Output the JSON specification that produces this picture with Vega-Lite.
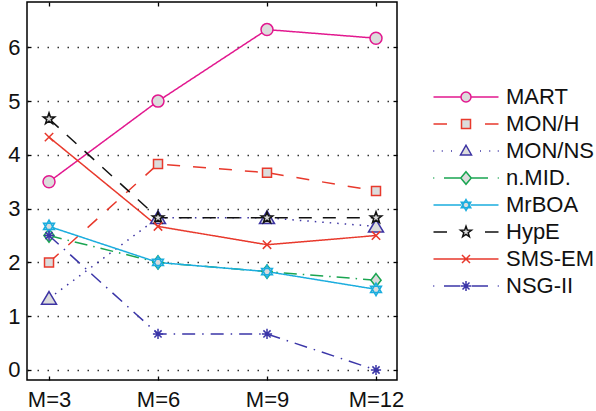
{
  "$schema": "https://vega.github.io/schema/vega-lite/v6.json",
  "autosize": "none",
  "width": 370,
  "height": 378,
  "padding": {"left": 27, "top": 2, "right": 199, "bottom": 31},
  "background": "white",
  "config": {
    "view": {"stroke": "#000", "strokeWidth": 1.5},
    "axis": {"labelFont": "Liberation Sans", "labelFontSize": 22, "labelColor": "#111", "tickColor": "#000", "tickWidth": 1.3},
    "legend": {"labelFont": "Liberation Sans", "labelFontSize": 22, "labelColor": "#111"}
  },
  "data": {
    "values": [
      {"alg": "MART", "m": 3, "v": 3.5}, {"alg": "MART", "m": 6, "v": 5.0}, {"alg": "MART", "m": 9, "v": 6.33}, {"alg": "MART", "m": 12, "v": 6.17},
      {"alg": "MON/H", "m": 3, "v": 2.0}, {"alg": "MON/H", "m": 6, "v": 3.83}, {"alg": "MON/H", "m": 9, "v": 3.67}, {"alg": "MON/H", "m": 12, "v": 3.33},
      {"alg": "MON/NS", "m": 3, "v": 1.33}, {"alg": "MON/NS", "m": 6, "v": 2.83}, {"alg": "MON/NS", "m": 9, "v": 2.83}, {"alg": "MON/NS", "m": 12, "v": 2.67},
      {"alg": "n.MID.", "m": 3, "v": 2.5}, {"alg": "n.MID.", "m": 6, "v": 2.0}, {"alg": "n.MID.", "m": 9, "v": 1.83}, {"alg": "n.MID.", "m": 12, "v": 1.67},
      {"alg": "MrBOA", "m": 3, "v": 2.67}, {"alg": "MrBOA", "m": 6, "v": 2.0}, {"alg": "MrBOA", "m": 9, "v": 1.83}, {"alg": "MrBOA", "m": 12, "v": 1.5},
      {"alg": "HypE", "m": 3, "v": 4.67}, {"alg": "HypE", "m": 6, "v": 2.83}, {"alg": "HypE", "m": 9, "v": 2.83}, {"alg": "HypE", "m": 12, "v": 2.83},
      {"alg": "SMS-EM", "m": 3, "v": 4.33}, {"alg": "SMS-EM", "m": 6, "v": 2.67}, {"alg": "SMS-EM", "m": 9, "v": 2.33}, {"alg": "SMS-EM", "m": 12, "v": 2.5},
      {"alg": "NSG-II", "m": 3, "v": 2.5}, {"alg": "NSG-II", "m": 6, "v": 0.67}, {"alg": "NSG-II", "m": 9, "v": 0.67}, {"alg": "NSG-II", "m": 12, "v": 0.0}
    ]
  },
  "resolve": {
    "scale": {"shape": "independent", "stroke": "independent"},
    "axis": {"x": "independent", "y": "independent"}
  },
  "layer": [
    {
      "mark": {"type": "line", "strokeWidth": 1.5},
      "encoding": {
        "x": {"field": "m", "type": "quantitative",
          "scale": {"domain": [2.394, 12.578], "nice": false, "zero": false},
          "axis": {"orient": "bottom", "title": null, "values": [3, 6, 9, 12], "labelExpr": "'M=' + datum.value", "ticks": true, "tickSize": -4, "grid": false, "domain": false, "labelPadding": 13}},
        "y": {"field": "v", "type": "quantitative",
          "scale": {"domain": [-0.186, 6.843], "nice": false, "zero": false},
          "axis": {"orient": "left", "title": null, "values": [0, 1, 2, 3, 4, 5, 6], "ticks": true, "tickSize": -4, "domain": false, "grid": true, "gridDash": [1.5, 8.5], "gridColor": "#333", "gridWidth": 1.3, "labelPadding": 11}},
        "color": {"field": "alg", "type": "nominal",
          "sort": ["MART", "MON/H", "MON/NS", "n.MID.", "MrBOA", "HypE", "SMS-EM", "NSG-II"],
          "scale": {"range": ["#e2188f", "#e8392c", "#3d34a3", "#1aa551", "#1badde", "#111111", "#e8392c", "#3b36a8"]},
          "legend": null},
        "strokeDash": {"field": "alg", "type": "nominal",
          "sort": ["MART", "MON/H", "MON/NS", "n.MID.", "MrBOA", "HypE", "SMS-EM", "NSG-II"],
          "scale": {"range": [[1, 0], [13, 13], [1.5, 6], [13, 6, 1.5, 6], [1, 0], [13, 11], [1, 0], [13, 7, 1.5, 7]]},
          "legend": null}
      }
    },
    {
      "mark": {"type": "point", "fill": "#dcdcdc", "fillOpacity": 1, "opacity": 1, "strokeWidth": 1.5, "size": 144},
      "encoding": {
        "x": {"field": "m", "type": "quantitative", "scale": {"domain": [2.394, 12.578], "nice": false, "zero": false}, "axis": null},
        "y": {"field": "v", "type": "quantitative", "scale": {"domain": [-0.186, 6.843], "nice": false, "zero": false}, "axis": null},
        "shape": {"field": "alg", "type": "nominal",
          "scale": {"domain": ["MART", "MON/H", "MON/NS", "n.MID.", "MrBOA", "HypE", "SMS-EM", "NSG-II"],
                    "range": [
                      "M-1,0A1,1 0 1,1 1,0A1,1 0 1,1 -1,0Z",
                      "M-0.75,-0.75H0.75V0.75H-0.75Z",
                      "M0,-1.15L1.25,0.95H-1.25Z",
                      "M0,-1.1L0.85,0L0,1.1L-0.85,0Z",
                      "M0,-1.05L0.91,0.525H-0.91ZM0,1.05L-0.91,-0.525H0.91Z",
                      "M0,-1L0.235,-0.324L0.951,-0.309L0.38,0.124L0.588,0.809L0,0.4L-0.588,0.809L-0.38,0.124L-0.951,-0.309L-0.235,-0.324Z",
                      "M-0.7,-0.7L0.7,0.7M-0.7,0.7L0.7,-0.7",
                      "M0,-0.85V0.85M-0.85,0H0.85M-0.6,-0.6L0.6,0.6M-0.6,0.6L0.6,-0.6"
                    ]},
          "legend": null},
        "stroke": {"field": "alg", "type": "nominal",
          "scale": {"domain": ["MART", "MON/H", "MON/NS", "n.MID.", "MrBOA", "HypE", "SMS-EM", "NSG-II"],
                    "range": ["#e2188f", "#e8392c", "#3d34a3", "#1aa551", "#1badde", "#111111", "#e8392c", "#3b36a8"]},
          "legend": null}
      }
    },
    {
      "mark": {"type": "point", "fill": "#dcdcdc", "opacity": 0, "strokeWidth": 1.5, "size": 100},
      "encoding": {
        "x": {"field": "m", "type": "quantitative", "scale": {"domain": [2.394, 12.578], "nice": false, "zero": false},
          "axis": {"orient": "top", "title": null, "values": [3, 6, 9, 12], "labels": false, "ticks": true, "tickSize": -4, "grid": false, "domain": false}},
        "y": {"field": "v", "type": "quantitative", "scale": {"domain": [-0.186, 6.843], "nice": false, "zero": false},
          "axis": {"orient": "right", "title": null, "values": [0, 1, 2, 3, 4, 5, 6], "labels": false, "ticks": true, "tickSize": -4, "grid": false, "domain": false}},
        "stroke": {"field": "alg", "type": "nominal",
          "scale": {"domain": ["MART", "MON/H", "MON/NS", "n.MID.", "MrBOA", "HypE", "SMS-EM", "NSG-II"],
                    "range": ["#e2188f", "#e8392c", "#3d34a3", "#1aa551", "#1badde", "#111111", "#e8392c", "#3b36a8"]},
          "legend": {"title": null, "orient": "none", "legendX": 406, "legendY": 84, "padding": 0,
            "symbolSize": 100, "symbolStrokeWidth": 1.5, "symbolOpacity": 1, "symbolFillColor": "#dcdcdc",
            "symbolOffset": 22, "labelOffset": 29, "rowPadding": 5}},
        "shape": {"field": "alg", "type": "nominal",
          "scale": {"domain": ["MART", "MON/H", "MON/NS", "n.MID.", "MrBOA", "HypE", "SMS-EM", "NSG-II"],
                    "range": [
                      "M-6.5,0H-1M1,0H6.5M-1,0A1,1 0 1,1 1,0A1,1 0 1,1 -1,0Z",
                      "M-6.5,0H-3.8M3.8,0H6.5M-0.9,-0.9H0.9V0.9H-0.9Z",
                      "M-6.55,0H-6.35M-4.85,0H-4.65M-3,0H-2.8M2.8,0H3M4.65,0H4.85M6.35,0H6.55M0,-1.15L1.1,0.8H-1.1Z",
                      "M-6.55,0H-6.35M-4.4,0H-1.1M1.1,0H4.4M6.35,0H6.55M0,-1.25L1.05,0L0,1.25L-1.05,0Z",
                      "M-6.5,0H-0.95M0.95,0H6.5M0,-1.1L0.95,0.55H-0.95ZM0,1.1L-0.95,-0.55H0.95Z",
                      "M-6.5,0H-3.8M3.8,0H6.5M0,-1.15L0.27,-0.373L1.094,-0.355L0.437,0.143L0.676,0.93L0,0.46L-0.676,0.93L-0.437,0.143L-1.094,-0.355L-0.27,-0.373Z",
                      "M-6.5,0H6.5M-0.8,-0.8L0.8,0.8M-0.8,0.8L0.8,-0.8",
                      "M-6.55,0H-6.35M-4.4,0H-1.1M1.1,0H4.4M6.35,0H6.55M0,-1V1M-1,0H1M-0.7,-0.7L0.7,0.7M-0.7,0.7L0.7,-0.7"
                    ]},
          "legend": {"title": null, "orient": "none", "legendX": 406, "legendY": 84, "padding": 0,
            "symbolSize": 100, "symbolStrokeWidth": 1.5, "symbolOpacity": 1, "symbolFillColor": "#dcdcdc",
            "symbolOffset": 22, "labelOffset": 29, "rowPadding": 5}}
      }
    }
  ]
}
